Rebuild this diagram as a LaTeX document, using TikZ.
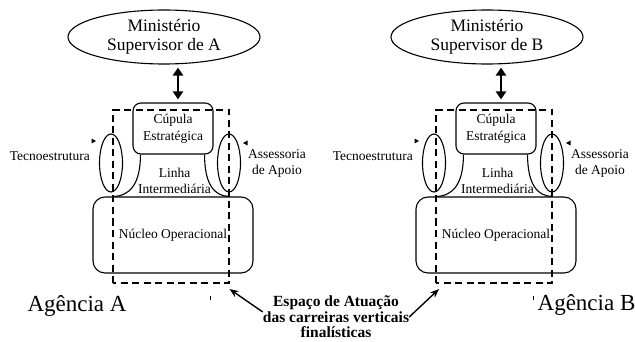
\documentclass[tikz,border=0pt]{standalone}
\usepackage{fontspec}
\setmainfont{Liberation Serif}
\usepackage{tikz}
\usetikzlibrary{positioning,shapes.geometric,arrows.meta}

\tikzset{
  contorno/.style={line width=1.1pt},
  ministerio/.style={draw, ellipse, contorno, inner sep=0pt, minimum width=192pt, minimum height=54pt, align=center, font=\fontsize{17.5}{19}\selectfont},
  cupula/.style={draw, rounded corners=8pt, contorno, inner sep=0pt, minimum width=80pt, minimum height=51pt, align=center, font=\fontsize{13.5}{17}\selectfont},
  nucleo/.style={draw, rounded corners=12pt, contorno, inner sep=0pt, minimum width=160pt, minimum height=76pt, font=\fontsize{13.5}{16}\selectfont},
  apoio/.style={draw, ellipse, contorno, inner sep=0pt, minimum width=23pt, minimum height=58pt},
  rotulo/.style={inner sep=0pt, align=center, font=\fontsize{13.5}{16.5}\selectfont},
  espaco/.style={line width=2pt, dash pattern=on 7pt off 4.5pt},
  duplaseta/.style={line width=2.6pt, {Triangle[length=8pt,width=10pt]}-{Triangle[length=8pt,width=10pt]}, shorten <=3pt, shorten >=3pt},
  seta/.style={line width=1.4pt, -{Stealth[length=9pt,width=7pt]}},
  agencia/.style={inner sep=0pt, font=\fontsize{23}{25}\selectfont},
  espacotxt/.style={inner sep=0pt, align=center, font=\bfseries\fontsize{15.5}{15.5}\selectfont}
}

\begin{document}
\begin{tikzpicture}[x=1pt, y=-1pt]
  \useasboundingbox (0,0) rectangle (635,342);

  % the two agencies
  \foreach \ag/\dx in {A/0, B/323} {
    \begin{scope}[xshift=\dx pt]
      \node[ministerio] (min\ag) at (164,37) {Ministério\\Supervisor de \ag};
      \node[cupula] (cup\ag) at (173,128.5) {Cúpula\\Estratégica};
      \node[nucleo] (nuc\ag) at (173,235) {Núcleo Operacional};
      \node[apoio] (tec\ag) at (111,163) {};
      \node[apoio] (ass\ag) at (229,163) {};
      \node[rotulo, anchor=east] (rtec\ag) at (90,156) {Tecnoestrutura};
      \node[rotulo, anchor=west] (rass\ag) at (248,163.5) {Assessoria\\de Apoio};
      \node[rotulo] (lin\ag) at (174.5,181) {Linha\\Intermediária};

      % ministry link
      \draw[duplaseta] ([xshift=5pt]cup\ag.north) -- ([xshift=5pt]cup\ag.north |- min\ag.south);

      % middle line sides
      \draw[contorno] ([xshift=8pt]cup\ag.south west) .. controls +(0,30) and +(17,0) .. ([xshift=20pt]nuc\ag.north west);
      \draw[contorno] ([xshift=-9pt]cup\ag.south east) .. controls +(0,30) and +(-15,0) .. ([xshift=-24pt]nuc\ag.north east);

      % small pointers
      \fill (91.5,138.5) -- (96,141) -- (91.5,143.5) -- cycle;
      \fill (247.5,140.5) -- (243,143) -- (247.5,145.5) -- cycle;

      % area of the vertical careers
      \coordinate (csw\ag) at (113,283);
      \coordinate (cse\ag) at (229,283);
      \draw[espaco] (csw\ag) rectangle (229,110);
      \draw[line width=0.8pt] (210,296) -- (210,299.5);
    \end{scope}
  }

  \node[agencia] (agA) at (77,306) {Agência A};
  \node[agencia] (agB) at (586.5,305) {Agência B};

  \node[espacotxt] (esp) at (336,317) {Espaço de Atuação\\das carreiras verticais\\finalísticas};
  \coordinate (alvoA) at (229.5,289);
  \coordinate (alvoB) at (439,289);
  \draw[seta] ([yshift=5pt]esp.west) -- (alvoA);
  \draw[seta] (esp.east) -- (alvoB);
\end{tikzpicture}
\end{document}
